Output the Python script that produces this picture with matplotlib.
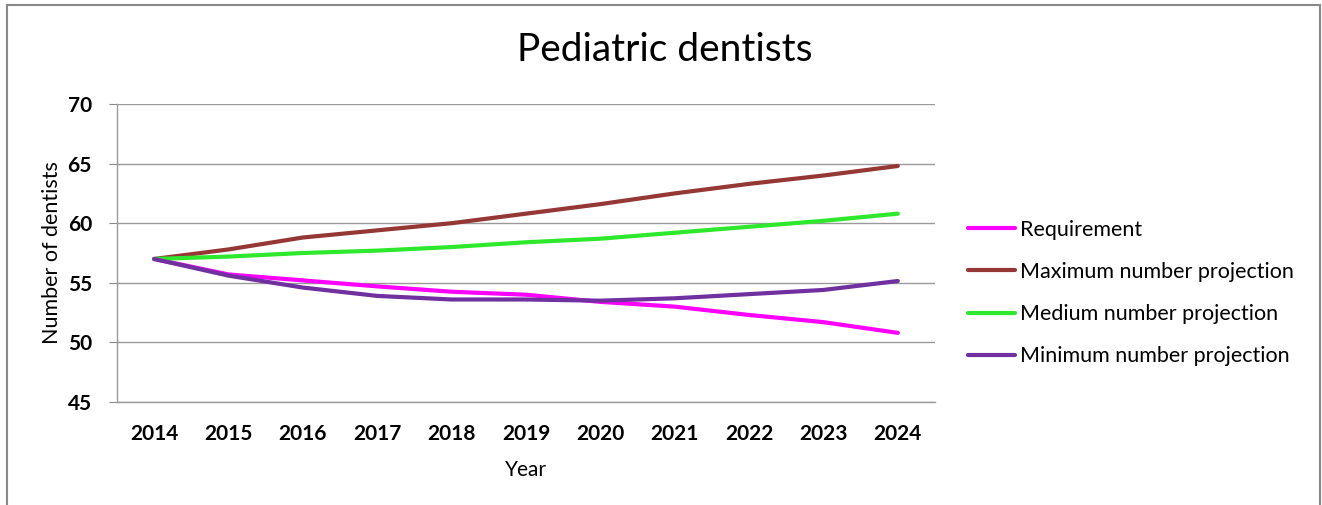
import matplotlib
matplotlib.use("Agg")
import matplotlib.pyplot as plt
from matplotlib.patches import Rectangle

years = [2014, 2015, 2016, 2017, 2018, 2019, 2020, 2021, 2022, 2023, 2024]
requirement = [57.0, 55.7, 55.2, 54.7, 54.25, 54.0, 53.4, 53.0, 52.3, 51.7, 50.8]
maximum = [57.0, 57.8, 58.8, 59.4, 60.0, 60.8, 61.6, 62.5, 63.3, 64.0, 64.8]
medium = [57.0, 57.2, 57.5, 57.7, 58.0, 58.4, 58.7, 59.2, 59.7, 60.2, 60.8]
minimum = [57.0, 55.6, 54.6, 53.9, 53.6, 53.6, 53.5, 53.7, 54.05, 54.4, 55.15]

series_names = ["Requirement", "Maximum number projection",
                "Medium number projection", "Minimum number projection"]
colors = ["#FF00FF", "#953735", "#2EE82E", "#7030A0"]

plt.rcParams['font.family'] = ['Lato', 'DejaVu Sans']

W, H = 1322, 505
fig = plt.figure(figsize=(W / 100, H / 100), dpi=100)
ax = fig.add_axes([117 / W, 1 - 402 / H, (935 - 117) / W, (402 - 104) / H])

x = list(range(len(years)))
for vals, name, c in zip([requirement, maximum, medium, minimum], series_names, colors):
    ax.plot(x, vals, color=c, lw=3.0, label=name, solid_capstyle='round')

ax.set_xlim(-0.5, len(years) - 0.5)
ax.set_ylim(45, 70)
ax.set_yticks([45, 50, 55, 60, 65, 70])
ax.set_xticks(x)
ax.set_xticklabels([str(y) for y in years])
for lab in ax.get_xticklabels() + ax.get_yticklabels():
    lab.set_fontweight('bold')
    lab.set_fontsize(15)
ax.tick_params(axis='x', length=0, pad=16)
ax.tick_params(axis='y', length=6, color='#888888', pad=12)
ax.grid(axis='y', color='#999999', lw=1.0)
ax.set_axisbelow(True)
for s in ['top', 'right']:
    ax.spines[s].set_visible(False)
for s in ['left', 'bottom']:
    ax.spines[s].set_color('#999999')
    ax.spines[s].set_linewidth(1.0)

ax.set_ylabel("Number of dentists", fontsize=15.5, labelpad=4)
ax.set_xlabel("Year", fontsize=15, labelpad=11)

fig.text(665 / W, 1 - 50 / H, "Pediatric dentists", fontsize=28, ha='center', va='center')

leg = fig.legend(loc='center left', bbox_to_anchor=(968 / W, 1 - 293 / H), frameon=False,
                 fontsize=15.5, handlelength=2.2, handletextpad=0.2, labelspacing=1.03,
                 borderaxespad=0, borderpad=0)

fig.patches.append(Rectangle((7 / W, -0.05), (1320 - 7) / W, 1.05 - 5 / H,
                             transform=fig.transFigure, fill=False,
                             edgecolor='#888888', lw=1.5))

fig.savefig("out.png", dpi=100)
